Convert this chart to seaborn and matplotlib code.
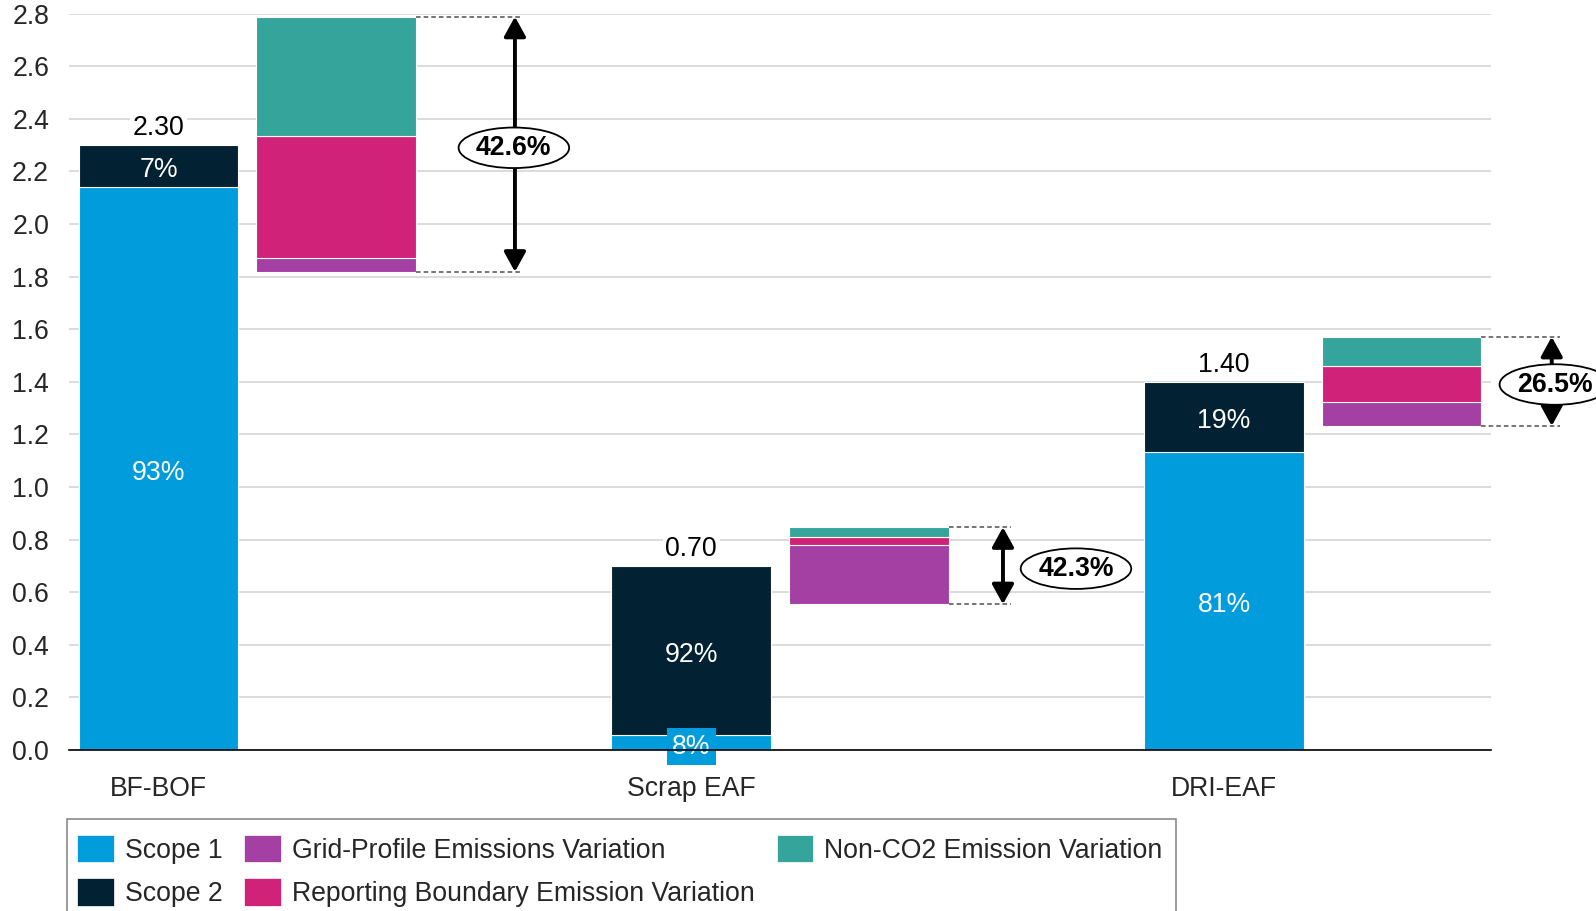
import numpy as np
import pandas as pd
import matplotlib
matplotlib.use("Agg")
import matplotlib.pyplot as plt
from matplotlib.patches import Patch, Rectangle
from matplotlib.ticker import FormatStrFormatter
import seaborn as sns

# ---- data -------------------------------------------------------------
routes = ["BF-BOF", "Scrap EAF", "DRI-EAF"]
totals = [2.30, 0.70, 1.40]                 # tCO2 / t steel
scope1_share = [93, 8, 81]                  # % of total
scope2_share = [7, 92, 19]                  # % of total

var_base = [1.818, 0.554, 1.232]            # lower end of the variation range
grid_var = [0.054, 0.225, 0.090]
boundary_var = [0.464, 0.032, 0.137]
nonco2_var = [0.452, 0.036, 0.112]
var_pct = [42.6, 42.3, 26.5]

series_names = ["Scope 1", "Scope 2", "Grid-Profile Emissions Variation",
                "Reporting Boundary Emission Variation", "Non-CO2 Emission Variation"]

# ---- style --------------------------------------------------------------
C_S1 = "#009CDC"
C_S2 = "#022132"
C_GRID = "#A43FA4"
C_BOUND = "#D1227A"
C_NONCO2 = "#35A49A"

sns.set_style("white")
plt.rcParams["font.family"] = ["Liberation Sans", "DejaVu Sans"]
FS = 19.2

BAR_W = 0.30
VAR_OFF = 0.333
# annotation offsets relative to each route position: arrow x, dashed-line end, oval x
ARROW_X = [0.669, 0.585, 0.615]
DASH_END = [0.683, 0.600, 0.630]
OVAL_X = [0.667, 0.722, 0.621]
TXT_DROP = -3   # points; optical centring of labels inside bars

fig = plt.figure(figsize=(15.96, 9.11), dpi=100)
ax = fig.add_axes([69 / 1596, 1 - 750 / 911, (1491 - 69) / 1596, (750 - 13.5) / 911])

pos = np.arange(len(routes), dtype=float)
vpos = pos + VAR_OFF
totals_a = np.array(totals)
s1 = totals_a * np.array(scope1_share) / 100
s2 = totals_a * np.array(scope2_share) / 100


def segment(x, heights, bottoms, color):
    df = pd.DataFrame({"pos": x, "val": heights})
    sns.barplot(data=df, x="pos", y="val", native_scale=True, width=BAR_W,
                color=color, saturation=1, errorbar=None, bottom=np.asarray(bottoms),
                edgecolor="white", linewidth=0.8, ax=ax)


# main stacked bars
segment(pos, s1, np.zeros(3), C_S1)
segment(pos, s2, s1, C_S2)

# floating variation bars
b0 = np.array(var_base)
b1 = b0 + np.array(grid_var)
b2 = b1 + np.array(boundary_var)
top = b2 + np.array(nonco2_var)
segment(vpos, grid_var, b0, C_GRID)
segment(vpos, boundary_var, b1, C_BOUND)
segment(vpos, nonco2_var, b2, C_NONCO2)

# axes
ax.set_xlim(-0.168, 2.501)
ax.set_ylim(0, 2.8)
ax.set_yticks(np.arange(0, 2.81, 0.2))
ax.yaxis.set_major_formatter(FormatStrFormatter("%.1f"))
ax.set_xticks(pos)
ax.set_xticklabels(routes)
ax.set_xlabel("")
ax.set_ylabel("")
ax.tick_params(axis="y", length=0, pad=14.4, labelsize=FS)
ax.tick_params(axis="x", length=0, pad=18.5, labelsize=FS)
ax.set_axisbelow(True)
ax.yaxis.grid(True, color="#d9d9d9", linewidth=1.3)
ax.xaxis.grid(False)
for side in ["left", "right", "top"]:
    ax.spines[side].set_visible(False)
ax.spines["bottom"].set_color("black")
ax.spines["bottom"].set_linewidth(1.2)


def inner_label(x, y, text, **kw):
    ax.annotate(text, (x, y), xytext=(0, TXT_DROP), textcoords="offset points",
                ha="center", va="center", fontsize=FS, color="white", **kw)


# value and share labels
for i in range(3):
    ax.annotate(f"{totals[i]:.2f}", (pos[i], totals[i]), xytext=(0, 3),
                textcoords="offset points", ha="center", va="bottom", fontsize=FS,
                color="black", bbox=dict(boxstyle="square,pad=0.1", fc="white", ec="none"))
    inner_label(pos[i], s1[i] + s2[i] / 2, f"{scope2_share[i]}%")
    if scope1_share[i] < 20:
        inner_label(pos[i], s1[i] / 2, f"{scope1_share[i]}%", zorder=2,
                    bbox=dict(boxstyle="square,pad=0.2", fc=C_S1, ec="none"))
    else:
        inner_label(pos[i], s1[i] / 2, f"{scope1_share[i]}%")

# variation range markers
for i in range(3):
    x_right = vpos[i] + BAR_W / 2
    for yv in (b0[i], top[i]):
        ax.plot([x_right, pos[i] + DASH_END[i]], [yv, yv], ls=(0, (3, 2)),
                color="#505050", lw=1.1, clip_on=False, zorder=3)
    ax.annotate("", xy=(pos[i] + ARROW_X[i], top[i]), xytext=(pos[i] + ARROW_X[i], b0[i]),
                arrowprops=dict(arrowstyle="<|-|>,head_length=0.6,head_width=0.33",
                                mutation_scale=20, lw=2.8, color="black",
                                shrinkA=0, shrinkB=0),
                annotation_clip=False, zorder=4)
    ax.annotate(f"{var_pct[i]:.1f}%", (pos[i] + OVAL_X[i], totals[i]), xytext=(0, -2),
                textcoords="offset points", ha="center", va="center",
                fontsize=FS, fontweight="bold", color="black", zorder=5,
                annotation_clip=False,
                bbox=dict(boxstyle="ellipse,pad=0.05", fc="white", ec="black", lw=1.3))

# legend (entries without frame, frame drawn as an open-bottomed box)
colors = [C_S1, C_S2, C_GRID, C_BOUND, C_NONCO2]
handles = [Patch(facecolor=c, edgecolor="white", linewidth=0.5) for c in colors]
fig.legend(handles, series_names, loc="upper left",
           bbox_to_anchor=(77 / 1596, 1 - 835 / 911), ncol=3, fontsize=FS,
           frameon=False, handlelength=1.38, handleheight=1.2, handletextpad=0.41,
           columnspacing=0.82, borderpad=0, labelspacing=0.55, borderaxespad=0)
fig.add_artist(Rectangle((67 / 1596, -0.05), (1176 - 67) / 1596, 0.05 + 1 - 819 / 911,
                         transform=fig.transFigure, fill=False, edgecolor="#808080",
                         linewidth=1.1, clip_on=False))

fig.savefig("out.png", dpi=100)
